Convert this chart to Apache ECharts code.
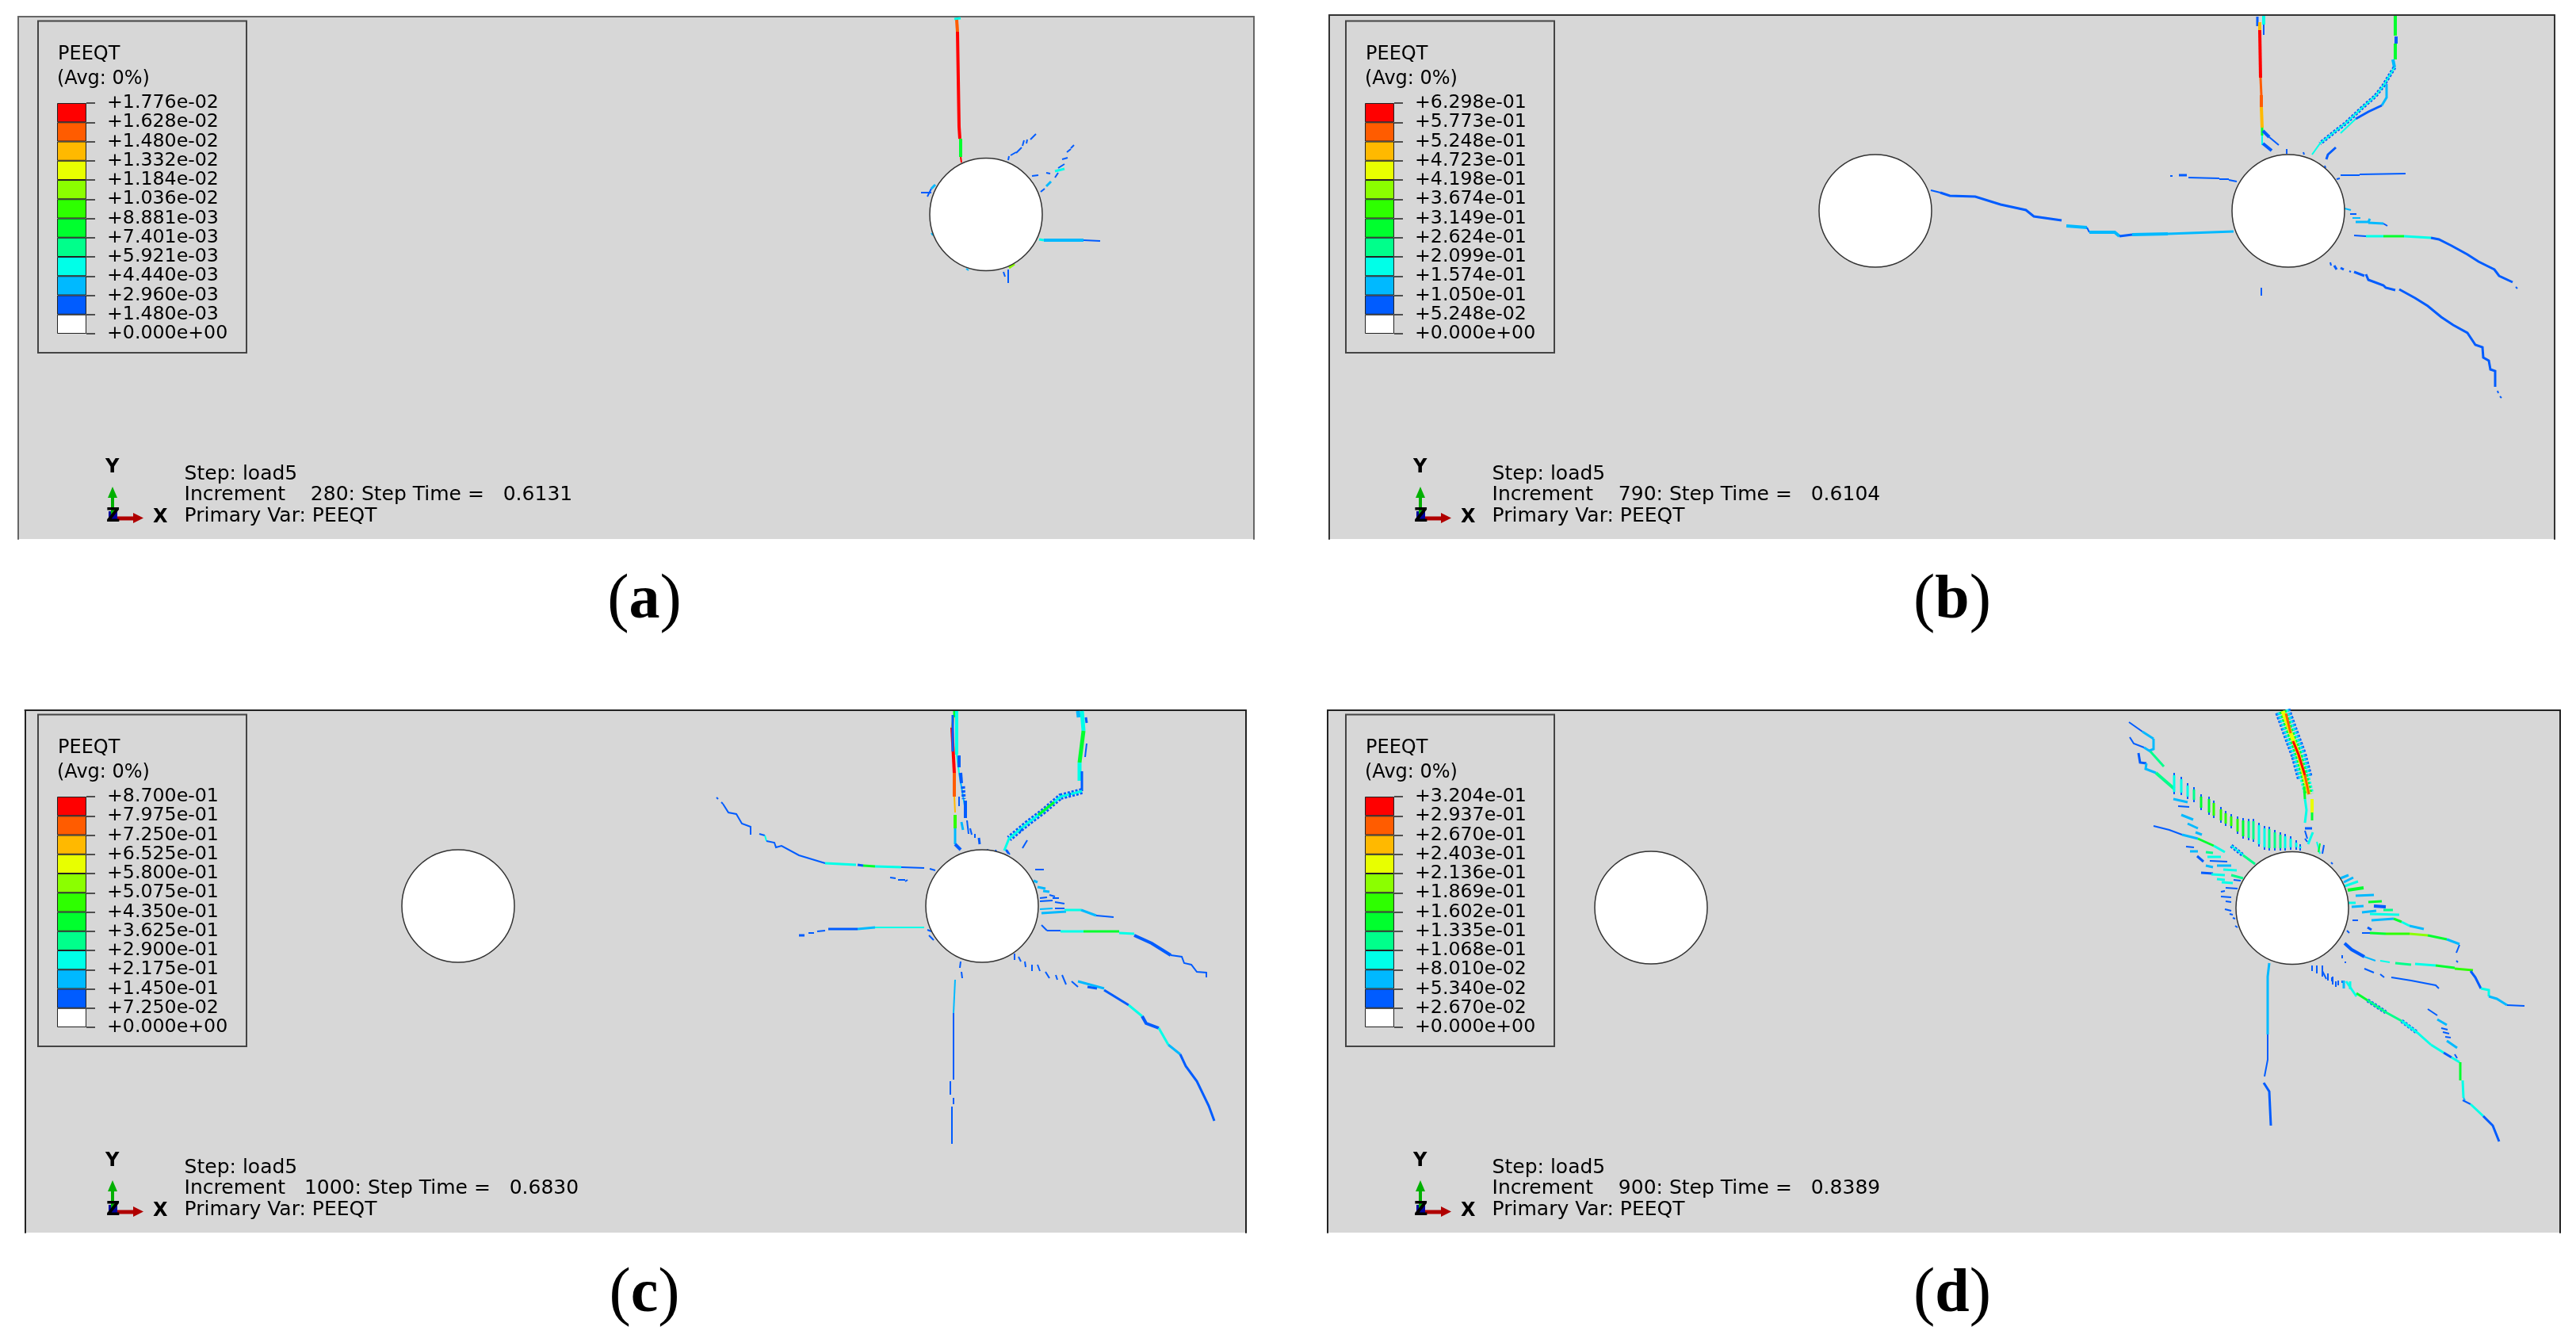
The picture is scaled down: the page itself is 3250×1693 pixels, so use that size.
<!DOCTYPE html>
<html><head><meta charset="utf-8">
<style>html,body{margin:0;padding:0;background:#fff}#c{width:3250px;height:1693px}</style>
<script src="https://cdn.jsdelivr.net/npm/echarts@6/dist/echarts.min.js"></script>
</head><body><div id="c"></div>
<script>
// colour bands, top of contour legend to bottom
const bandColors = ['#ff0000','#ff5c00','#ffb900','#e8ff00','#8bff00','#2eff00','#00ff2e','#00ff8b','#00ffe8','#00b9ff','#005cff','#ffffff'];
const labelsA = ['+1.776e-02','+1.628e-02','+1.480e-02','+1.332e-02','+1.184e-02','+1.036e-02','+8.881e-03','+7.401e-03','+5.921e-03','+4.440e-03','+2.960e-03','+1.480e-03','+0.000e+00'];
const labelsB = ['+6.298e-01','+5.773e-01','+5.248e-01','+4.723e-01','+4.198e-01','+3.674e-01','+3.149e-01','+2.624e-01','+2.099e-01','+1.574e-01','+1.050e-01','+5.248e-02','+0.000e+00'];
const labelsC = ['+8.700e-01','+7.975e-01','+7.250e-01','+6.525e-01','+5.800e-01','+5.075e-01','+4.350e-01','+3.625e-01','+2.900e-01','+2.175e-01','+1.450e-01','+7.250e-02','+0.000e+00'];
const labelsD = ['+3.204e-01','+2.937e-01','+2.670e-01','+2.403e-01','+2.136e-01','+1.869e-01','+1.602e-01','+1.335e-01','+1.068e-01','+8.010e-02','+5.340e-02','+2.670e-02','+0.000e+00'];
const incA = 'Increment    280: Step Time =   0.6131';
const incB = 'Increment    790: Step Time =   0.6104';
const incC = 'Increment   1000: Step Time =   0.6830';
const incD = 'Increment    900: Step Time =   0.8389';
const holesA = [[1244,270.5]];
const holesB = [[2366,266],[2887,266]];
const holesC = [[578,1143],[1239,1143]];
const holesD = [[2083,1145],[2892,1145.5]];
// each piece: band, width, then x,y pairs (sheet position)
const cracksA = [
 [8,3,1204,24,1212,23],[1,4,1207,25,1208,40],[0,4,1208,40,1209,100,1210,160,1211,175],[6,4,1212,175,1212,198],[0,2,1212,198,1213,205],
 [10,3,1272,202,1273,197],[10,3,1275,196,1282,192],[10,3,1282,193,1289,186],[10,3,1290,184,1292,177],[10,2,1295,181,1296,176],[10,3,1300,176,1307,169],
 [10,3,1313,242,1318,238],[9,3,1320,235,1326,229],[10,3,1331,224,1335,218],[8,3,1331,216,1343,213],[10,3,1335,212,1343,207],[10,3,1340,201,1347,199],[10,3,1346,192,1351,188],[10,3,1351,187,1355,183],
 [10,3,1302,222,1310,221],[10,3,1320,218,1325,219],
 [8,3,1311,302,1317,303],[9,4,1317,303,1367,303],[10,2,1367,303,1388,304],
 [10,3,1272,340,1272,357],[10,3,1266,343,1268,349],[4,3,1280,333,1273,338],
 [10,3,1162,243,1175,243],[10,3,1170,248,1175,238],[9,3,1175,238,1180,233],[9,2,1175,294,1177,297],[9,2,1219,339,1222,341]
];
const cracksB = [
 [10,4,2848,21,2848,33],[8,4,2856,20,2856,31],[10,3,2856,31,2856,44],[2,4,2851,28,2851,38],
 [0,4,2851,38,2852,98],[1,3,2852,98,2853,120],[1,4,2853,120,2853,135],[2,4,2853,135,2854,161],[6,3,2854,161,2854,171],[8,2,2854,171,2854,183],
 [10,5,2855,165,2863,173],[10,3,2863,173,2875,183],[10,5,2855,181,2866,190],[10,2,2885,188,2885,194],
 [6,4,3022,20,3022,45],[10,5,3023,46,3023,55],[6,4,3022,55,3022,75],[9,4,3019,75,3021,85],
 [10,6,3021,85,3013,98,3007,108,2997,121,2980,136,2960,155,2947,165,2927,181],[8,2,3021,85,3013,98,3007,108,2997,121,2980,136,2960,155,2947,165,2927,181,2917,195],
 [9,3,3011,106,3011,123,3005,133],[10,4,3005,133,2988,141,2972,150],[8,2,2972,150,2953,168],
 [10,4,2947,186,2937,195,2935,201],[10,3,2933,209,2934,212],[10,3,2906,192,2907,195],
 [10,3,2953,221,2977,221],[10,3,2977,220,3035,219],[10,3,2948,226,2952,225],
 [9,2,2958,263,2966,265],[10,3,2965,270,2973,270],[9,2,2968,275,2978,275],[9,3,2972,280,2988,280,2990,276],[9,3,2988,281,3007,282],[10,3,3007,282,3012,285],
 [10,2,2970,297,2985,298],[8,3,2985,298,3007,298],[6,3,3007,298,3033,298],[8,3,3033,298,3067,300],
 [10,4,3067,300,3077,302,3093,310,3113,321,3127,330,3137,335,3147,340,3153,348,3170,356],[10,3,3174,362,3176,364],
 [10,3,2940,331,2941,335],[10,4,2945,335,2948,340],[10,4,2953,338,2957,340],[10,3,2964,342,2966,343],[10,4,2970,343,2983,348],
 [10,4,2985,346,2988,353,3007,360,3010,363,3022,366],[10,4,3027,365,3047,376,3063,386,3080,400,3095,410,3113,420,3123,435,3132,438,3133,451,3140,455,3142,466,3148,468,3148,488],
 [10,2,3151,493,3152,496],[10,3,3154,500,3156,502],[10,3,2853,363,2853,373],
 [10,3,2738,222,2741,222],[10,4,2749,221,2759,221],[10,3,2761,224,2800,225],[10,3,2800,226,2812,226],[10,3,2812,227,2822,229],
 [10,3,2436,240,2448,243],[10,4,2448,243,2460,247,2492,248,2524,258,2556,265,2566,273,2601,278],[9,4,2607,285,2633,287],[10,3,2633,287,2636,293],[9,4,2636,293,2668,293,2674,298],[10,4,2674,298,2690,296],[9,4,2690,296,2735,295],[9,3,2735,295,2818,292]
];
const cracksC = [
 [6,5,1205,897,1205,905],[2,3,1203,905,1201,918],[0,4,1201,918,1204,975],[1,4,1204,975,1204,1005],[2,2,1204,1005,1205,1025],[5,4,1205,1028,1205,1045],[9,3,1205,1045,1205,1065],[10,5,1205,1065,1212,1072],
 [8,4,1207,897,1207,952],[8,2,1207,952,1210,975],[9,2,1210,975,1218,1022],
 [10,4,1202,902,1202,948],[10,5,1210,953,1210,968],[10,5,1212,975,1213,988],[10,6,1215,992,1216,1008],[10,5,1218,1010,1218,1032],[10,3,1220,1035,1222,1052],[10,3,1224,1045,1226,1053],[10,3,1230,1052,1230,1057],[10,4,1235,1057,1236,1065],[10,3,1210,1005,1210,1017],[9,3,1213,1037,1215,1047],
 [10,2,1245,1072,1250,1074],[10,2,1256,1072,1258,1077],[10,2,1268,1071,1272,1077],
 [9,5,1360,897,1361,905],[8,5,1365,897,1367,922],[10,4,1370,905,1371,912],[6,5,1367,922,1362,962],[10,3,1371,938,1369,955],[8,5,1362,962,1362,985],[10,4,1365,973,1365,998],
 [10,9,1365,998,1338,1005,1317,1023,1297,1038,1273,1058],[8,3,1365,998,1338,1005,1317,1023,1297,1038,1273,1058,1267,1073],[6,3,1330,1012,1310,1028],
 [10,3,1350,1000,1350,1005],[10,3,1290,1045,1286,1051],[10,3,1296,1060,1290,1070],[10,2,1270,1072,1274,1078],
 [10,2,904,1006,906,1008],[10,2,910,1012,912,1014],[10,3,912,1014,919,1025,929,1027,936,1039,947,1043,947,1053],
 [10,3,958,1052,965,1054],[8,2,965,1054,967,1061],[10,3,967,1061,977,1063,979,1069,986,1067,1008,1079,1041,1089],[8,3,1041,1089,1080,1091],[10,4,1082,1091,1089,1092],[6,3,1089,1092,1104,1093],[8,3,1104,1093,1137,1094],[10,3,1137,1094,1166,1095],[10,2,1173,1096,1180,1098],
 [10,2,1123,1107,1130,1108],[10,2,1133,1110,1142,1110],[10,2,1142,1112,1145,1110],
 [10,4,1008,1180,1015,1180],[10,3,1020,1177,1027,1177],[10,3,1031,1175,1041,1174],[10,4,1045,1172,1082,1172],[9,3,1082,1172,1104,1170],[8,2,1104,1170,1166,1170],
 [10,3,1170,1173,1175,1175],[10,2,1172,1180,1178,1186],
 [10,3,1212,1213,1211,1221],[10,3,1213,1226,1214,1234],[9,2,1205,1236,1203,1278],[10,2,1203,1278,1203,1362],[10,3,1199,1364,1199,1381],[10,3,1203,1385,1203,1393],[10,3,1201,1396,1201,1443],
 [10,3,1306,1097,1317,1097],[9,3,1304,1111,1309,1113],[9,3,1309,1119,1319,1121],[9,3,1316,1124,1324,1125],[10,3,1312,1133,1321,1132],[10,3,1324,1129,1331,1131],[10,3,1312,1137,1328,1136],[10,3,1328,1133,1336,1133],[10,3,1331,1138,1343,1140],[9,2,1312,1147,1328,1146],[10,3,1331,1146,1343,1146],[9,3,1314,1152,1345,1150],
 [8,3,1343,1148,1364,1148],[9,3,1364,1148,1383,1155],[10,3,1383,1155,1405,1157],
 [10,2,1314,1167,1321,1174],[10,3,1321,1174,1338,1174],[8,3,1338,1175,1367,1175],[6,3,1367,1175,1412,1175],[8,3,1412,1177,1431,1178],
 [10,5,1431,1180,1453,1190,1477,1205],[10,3,1477,1205,1491,1207,1494,1215,1503,1217,1510,1226,1522,1227,1522,1233],
 [10,3,1280,1203,1280,1211],[10,3,1285,1207,1288,1213],[10,3,1293,1213,1294,1220],[10,3,1302,1217,1302,1225],[10,3,1309,1217,1312,1225],[10,3,1319,1226,1324,1234],[10,3,1332,1230,1334,1236],[10,3,1340,1230,1345,1242],[10,2,1352,1238,1360,1245],
 [9,3,1360,1238,1393,1247],[10,4,1372,1245,1384,1247],[10,4,1393,1249,1424,1268],[8,3,1424,1268,1441,1282],[10,5,1441,1282,1446,1291,1462,1297],[8,3,1462,1297,1474,1318],[9,3,1474,1318,1489,1330],[10,4,1489,1330,1496,1345,1510,1364,1525,1395,1532,1414]
];
// wide layered plastic band at the top of panel d
const cracksD = [
 [10,21,2880,897,2890,925,2900,952,2908,982],[9,17,2880,897,2890,925,2900,952,2908,982],[8,13,2880,897,2890,925,2900,952,2908,982,2913,1002],[6,9,2880,897,2890,925,2900,952,2908,982,2913,1002],[3,5,2880,897,2890,925,2900,952,2908,982,2913,1002],[1,3,2884,900,2890,925],[0,3,2893,935,2900,952,2908,978],[1,3,2908,978,2913,1002],
 [6,3,2907,992,2908,1008],[8,3,2908,1008,2910,1022,2908,1038],[3,4,2917,1008,2917,1025],[6,3,2917,1025,2917,1035],
 [10,4,2908,1045,2917,1045],[10,3,2908,1048,2911,1058],[8,3,2912,1065,2918,1050],[10,3,2908,1058,2911,1062],[8,2,2923,1062,2927,1077],[6,2,2927,1064,2925,1075],[10,2,2932,1066,2930,1077],[10,2,2941,1088,2943,1090],
 [10,3,2686,911,2703,923],[9,3,2703,923,2717,932],[9,3,2717,932,2717,945,2712,947],
 [10,3,2687,930,2692,938,2705,943],[9,3,2705,943,2713,948],[7,3,2713,948,2730,967],
 [10,4,2698,950,2700,962,2708,963],[9,3,2708,963,2707,970,2720,975],[7,4,2720,975,2743,995],
 // lower-left fan of short cracks
 [10,3,2717,1042,2737,1047,2753,1053],[9,3,2753,1053,2773,1058],[6,3,2773,1058,2793,1067],[8,3,2793,1067,2807,1075],
 [10,6,2815,1067,2830,1079],[8,2,2815,1067,2845,1090],[7,3,2830,1079,2845,1090],
 [9,3,2742,1008,2760,1012],[10,3,2748,1017,2762,1018],[9,3,2752,1028,2767,1034],[9,3,2760,1039,2773,1045],[9,3,2770,1050,2778,1053],
 [10,3,2758,1068,2768,1069],[9,3,2763,1074,2773,1074],[7,3,2783,1075,2792,1076],[10,4,2772,1080,2780,1087],[8,3,2785,1081,2802,1081],[10,3,2788,1086,2810,1087],[9,3,2783,1092,2792,1094],[9,3,2797,1092,2815,1092],[8,3,2805,1097,2822,1098],[10,4,2777,1101,2792,1102],[8,3,2790,1103,2807,1104],[7,3,2815,1104,2830,1108],[8,3,2797,1109,2807,1110],[10,3,2818,1110,2827,1111],[8,3,2803,1113,2817,1114],[10,3,2808,1120,2823,1121],[10,2,2802,1125,2807,1124],[10,3,2802,1131,2815,1132],[10,3,2808,1137,2815,1138],[10,3,2807,1147,2815,1149],[10,3,2813,1153,2817,1154],[10,3,2817,1158,2820,1159],[10,3,2820,1168,2823,1170],
 // right fan
 [9,3,2953,1108,2963,1104],[9,3,2957,1113,2969,1107],[8,3,2958,1118,2975,1112],[6,4,2962,1123,2982,1120],[9,3,2972,1130,2995,1129],[8,3,2963,1139,2972,1139],[6,3,2988,1138,3005,1137],[9,3,2967,1144,2982,1143],[10,5,2995,1143,3010,1144],[9,3,2980,1151,2998,1149],[7,3,3007,1148,3019,1148],[8,3,2990,1153,3027,1154],[10,3,2968,1161,2975,1161],[9,3,2992,1161,3020,1159],[6,3,3020,1159,3030,1163],[8,3,3030,1163,3040,1168],[9,3,3040,1168,3058,1172],
 [10,4,2987,1170,2992,1173],[10,2,2961,1174,2964,1177],
 [10,3,2980,1177,2990,1177],[6,3,2990,1177,3010,1178],[5,3,3010,1178,3040,1178],[4,3,3040,1178,3063,1180],[6,3,3063,1180,3087,1185],[9,3,3087,1185,3103,1191],[10,3,3103,1192,3099,1202],[10,2,3099,1212,3101,1214],
 [10,5,2958,1190,2967,1198,2983,1207],[9,2,2983,1207,2997,1212],[8,2,3003,1212,3015,1214],[7,3,3022,1215,3042,1217],[8,3,3047,1216,3073,1218],[6,3,3073,1218,3097,1221],[5,3,3097,1222,3120,1224],
 [10,4,3117,1225,3123,1233,3130,1247],[8,3,3130,1247,3140,1249,3140,1257],[9,3,3140,1257,3150,1260,3163,1268],[10,3,3163,1268,3185,1269],
 [10,2,2983,1222,2995,1227],[10,3,3003,1229,3008,1233],[10,3,3017,1233,3042,1237,3073,1243,3077,1247],
 [10,2,2955,1205,2955,1209],[10,2,2959,1213,2959,1215],
 // bottom-right long crack
 [10,3,2930,1225,2935,1235],[10,3,2942,1233,2942,1238],[10,3,2947,1238,2947,1245],[10,3,2955,1237,2955,1240],[8,3,2960,1238,2973,1257],
 [6,3,2973,1253,2987,1262],[10,6,2987,1262,3010,1277],[7,3,2987,1262,3010,1277,3030,1288],[10,6,3030,1288,3050,1303],[8,3,3030,1288,3050,1303,3067,1318],[8,3,3067,1318,3083,1328],[10,4,3083,1328,3093,1334],[8,3,3093,1334,3103,1340],
 [6,3,3104,1340,3104,1363],[8,3,3107,1363,3108,1385],[9,2,3108,1385,3110,1388],[10,2,3107,1388,3117,1393],[8,3,3117,1393,3133,1408],[10,4,3133,1408,3145,1420,3153,1440],
 [10,3,3063,1273,3075,1281],[9,3,3075,1286,3087,1293],[10,2,3080,1297,3088,1299],[10,2,3082,1302,3090,1304],[10,2,3085,1308,3092,1309],[9,3,3087,1313,3100,1322],[10,3,3097,1330,3100,1335],
 [10,3,2917,1218,2917,1225],[10,3,2923,1218,2923,1228],[10,3,2930,1218,2930,1232],[10,3,2937,1228,2937,1237],[10,3,2943,1232,2943,1242],[10,3,2950,1237,2950,1243],[9,3,2957,1237,2957,1247],[8,3,2965,1238,2965,1248],
 // lower crack
 [9,3,2863,1215,2861,1232,2861,1242],[9,3,2861,1242,2861,1305],[10,3,2861,1305,2861,1337,2859,1339,2857,1358],[10,4,2856,1366,2863,1377,2865,1420]
];
// short vertical rungs of the upper-left band in panel d: band, x, y top, y bottom
const rungsD = [
 [8,2743,975,1002],[8,2752,980,1003],[8,2760,988,1008],[7,2768,993,1012],[6,2777,1002,1022],[6,2787,1005,1028],[5,2793,1010,1032],[5,2802,1018,1038],[5,2808,1023,1042],[5,2815,1027,1045],[5,2823,1030,1052],[6,2830,1032,1058],[7,2837,1033,1060],[7,2843,1033,1062],[8,2850,1038,1068],[8,2857,1042,1072],[7,2863,1043,1073],[7,2870,1047,1073],[7,2877,1050,1073],[8,2883,1052,1073],[8,2890,1055,1072],[8,2897,1060,1072],[8,2902,1065,1073]
];

const offsets = [[0,0],[1650,0],[0,875],[1650,875]];
const frames = [[23,21,1582,680],[1677,19,3223,680],[31.5,896,1572,1555],[1675,896,3230,1555]];
const frameColors = ['#666','#333','#222','#222'];
const allLabels = [labelsA,labelsB,labelsC,labelsD];
const allCracks = [cracksA,cracksB,cracksC,cracksD];
const allHoles = [holesA,holesB,holesC,holesD];
const incs = [incA,incB,incC,incD];
const captions = ['a','b','c','d'];
const fnt = '"DejaVu Sans"';

const grid=[],xAxis=[],yAxis=[],series=[],gfx=[];
const frameLine=i=>({show:true,lineStyle:{color:frameColors[i],width:2}});
frames.forEach((f,i)=>{
  grid.push({left:f[0],top:f[1],width:f[2]-f[0],height:f[3]-f[1],show:true,backgroundColor:'#d7d7d7',borderWidth:0,containLabel:false});
  xAxis.push({type:'value',gridIndex:i,position:'top',min:f[0],max:f[2],axisLine:frameLine(i),axisTick:{show:false},axisLabel:{show:false},splitLine:{show:false}});
  yAxis.push({type:'value',gridIndex:i,inverse:true,position:'left',min:f[1],max:f[3],axisLine:frameLine(i),axisTick:{show:false},axisLabel:{show:false},splitLine:{show:false}});
});
frames.forEach((f,i)=>{
  const o=offsets[i];
  grid.push({left:72+o[0],top:130+o[1],width:37,height:291,containLabel:false});
  xAxis.push({type:'category',gridIndex:4+i,data:[''],axisLine:{show:false},axisTick:{show:false},axisLabel:{show:false},splitLine:{show:false}});
  const L=allLabels[i];
  yAxis.push({type:'value',gridIndex:4+i,position:'right',min:0,max:12,interval:1,
    axisLine:{show:false},axisTick:{show:true,length:11,lineStyle:{color:'#222',width:1.5}},splitLine:{show:false},
    axisLabel:{show:true,margin:26,color:'#000',fontFamily:'DejaVu Sans',fontSize:23.7,formatter:v=>L[12-v],hideOverlap:false}});
  bandColors.slice().reverse().forEach(col=>{
    series.push({type:'bar',xAxisIndex:4+i,yAxisIndex:4+i,stack:'s'+i,barWidth:'100%',data:[1],silent:true,animation:false,
      itemStyle:{color:col,borderColor:'#222',borderWidth:1}});
  });
});
frames.forEach((f,i)=>{
  yAxis.push({type:'value',gridIndex:i,inverse:true,position:'right',min:f[1],max:f[3],axisLine:frameLine(i),axisTick:{show:false},axisLabel:{show:false},splitLine:{show:false}});
});
function addLine(panel,band,width,pts){
  const data=[];for(let k=0;k<pts.length;k+=2)data.push([pts[k],pts[k+1]]);
  const w=band===10?Math.max(2,width-1):width;
  series.push({type:'line',xAxisIndex:panel,yAxisIndex:panel,data,symbol:'none',silent:true,animation:false,z:2,
    lineStyle:{color:bandColors[band],width:w,cap:'butt',join:'miter',type:width>=6?[3,2]:'solid'}});
}
allCracks.forEach((list,i)=>list.forEach(c=>addLine(i,c[0],c[1],c.slice(2))));
rungsD.forEach(r=>{
  addLine(3,10,3,[r[1],r[2],r[1],r[3]]);
  addLine(3,r[0],3,[r[1],r[2]+3,r[1],r[3]-3]);
});
allHoles.forEach((h,i)=>series.push({type:'scatter',xAxisIndex:i,yAxisIndex:i,data:h,symbol:'circle',symbolSize:142,silent:true,animation:false,z:5,
  itemStyle:{color:'#fff',borderColor:'#333',borderWidth:1.5,opacity:1}}));

function text(x,y,t,font){
  gfx.push({type:'text',x,y,z:20,silent:true,style:{text:t,font:font,fill:'#000',align:'left',verticalAlign:'middle'}});
}
offsets.forEach((o,i)=>{
  const X=o[0],Y=o[1];
  const f24='24px '+fnt, f25='25px '+fnt;
  gfx.push({type:'rect',z:15,silent:true,shape:{x:48+X,y:26.5+Y,width:263,height:418.5},style:{fill:'none',stroke:'#444',lineWidth:2}});
  text(73+X,69+Y,'PEEQT',f24);
  text(72+X,100+Y,'(Avg: 0%)',f24);
  text(232.6+X,598+Y,'Step: load5',f25);
  text(232.6+X,624.5+Y,incs[i],f25);
  text(232.6+X,651.5+Y,'Primary Var: PEEQT',f25);
  const b24='bold 24px '+fnt;
  text(133+X,590+Y,'Y',b24);
  gfx.push({type:'rect',z:16,silent:true,shape:{x:137+X,y:645+Y,width:11,height:13},style:{fill:'#0000a0'}});
  gfx.push({type:'rect',z:16,silent:true,shape:{x:140+X,y:626+Y,width:4,height:24},style:{fill:'#00b000'}});
  gfx.push({type:'polygon',z:16,silent:true,shape:{points:[[136+X,628+Y],[148+X,628+Y],[142+X,614+Y]]},style:{fill:'#00b000'}});
  gfx.push({type:'rect',z:16,silent:true,shape:{x:148+X,y:651.5+Y,width:22,height:5},style:{fill:'#b00000'}});
  gfx.push({type:'polygon',z:16,silent:true,shape:{points:[[168+X,647+Y],[168+X,660+Y],[181+X,653.5+Y]]},style:{fill:'#b00000'}});
  text(134+X,652+Y,'Z',b24);
  text(193+X,653+Y,'X',b24);
  gfx.push({type:'text',x:813+X,y:759+Y,z:20,silent:true,style:{
    text:'{p|(}{b|'+captions[i]+'}{p|)}',align:'center',verticalAlign:'middle',fill:'#000',
    rich:{p:{font:'82px "Liberation Serif"',fill:'#000'},b:{font:'bold 78px "Liberation Serif"',fill:'#000'}}}});
});

const chart=echarts.init(document.getElementById('c'),null,{renderer:'canvas',width:3250,height:1693});
chart.setOption({animation:false,backgroundColor:'#fff',grid,xAxis,yAxis,series,graphic:{elements:gfx}});
</script></body></html>
